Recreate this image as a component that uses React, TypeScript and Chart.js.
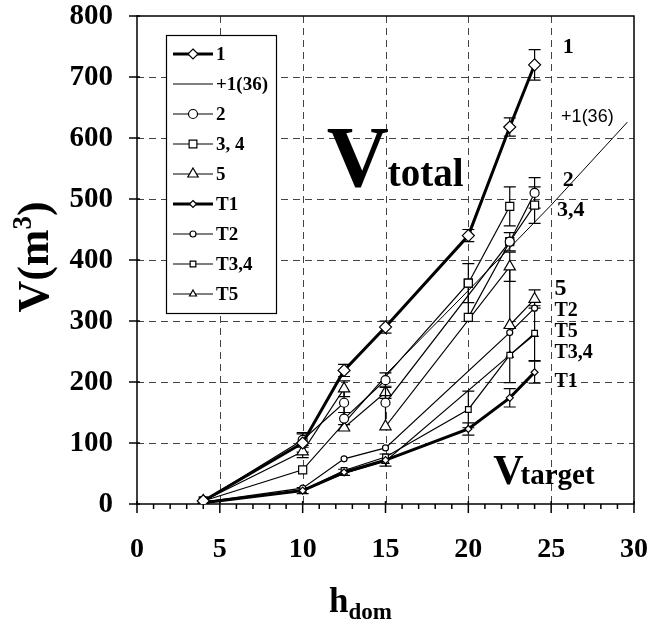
import React, { useEffect, useRef } from "react";
import { Chart, registerables } from "chart.js";

Chart.register(...registerables);

const SERIF = '"Liberation Serif", "Times New Roman", serif';
const SANS = '"Liberation Sans", Arial, sans-serif';

// ---- axes ----
const X_TICKS = [0, 5, 10, 15, 20, 25, 30];
const Y_TICKS = [0, 100, 200, 300, 400, 500, 600, 700, 800];

// ---- V total series ----
const s1X = [4, 10, 12.5, 15, 20, 22.5, 24];
const s1Y = [5, 100, 219, 290, 440, 618, 720];
const s1Err = [0, 15, 10, 10, 10, 15, 25];

const plusX = [15, 20, 25, 29.6];
const plusY = [212, 350, 490, 626];

const s2X = [4, 10, 12.5, 12.5, 15, 15, 22.5, 24];
const s2Y = [5, 105, 166, 140, 203, 166, 430, 510];
const s2Err = [0, 12, 0, 10, 12, 0, 0, 25];

const s34X = [4, 10, 20, 20, 22.5, 24];
const s34Y = [5, 56, 362, 306, 430, 490];
const s34Err = [0, 0, 32, 0, 15, 30];

const s3bX = [20, 22.5];
const s3bY = [362, 488];
const s3bErr = [0, 32];

const s5X = [4, 10, 12.5, 12.5, 15, 15, 22.5, 22.5, 24];
const s5Y = [5, 86, 189, 125, 183, 127, 389, 293, 336];
const s5Err = [0, 10, 13, 0, 10, 0, 24, 0, 15];

// ---- V target series ----
const t1X = [4, 10, 12.5, 15, 20, 22.5, 24];
const t1Y = [2, 22, 52, 72, 123, 174, 216];
const t1Err = [0, 5, 5, 10, 10, 15, 18];

const t2X = [4, 10, 12.5, 15, 22.5, 24];
const t2Y = [3, 26, 74, 92, 281, 321];
const t2Err = [0, 0, 0, 0, 0, 0];

const t34X = [4, 10, 12.5, 15, 20, 22.5, 24];
const t34Y = [3, 22, 55, 77, 155, 244, 280];
const t34Err = [0, 0, 0, 0, 30, 45, 45];

const t5X = [4, 10, 12.5, 15, 22.5, 24];
const t5Y = [3, 22, 50, 70, 244, 278];
const t5Err = [0, 0, 0, 0, 0, 0];

// ---- legend ----
const LEGEND_LABELS = ["1", "+1(36)", "2", "3, 4", "5", "T1", "T2", "T3,4", "T5"];
const LEGEND_STYLES = ["rectRot", "none", "circle", "rect", "triangle", "rectRot", "circle", "rect", "triangle"];
const LEGEND_WIDTHS = [3, 1, 1.2, 1.2, 1.2, 3, 1.2, 1.2, 1.2];
const LEGEND_RADII = [5, 0, 4.5, 5.5, 6, 3.5, 3, 4, 4];

// ---- series end labels ----
const END_LABELS = ["1", "2", "3,4", "5", "T2", "T5", "T3,4", "T1"];
const END_LABEL_X = [25.7, 25.7, 25.35, 25.2, 25.2, 25.2, 25.2, 25.2];
const END_LABEL_Y = [748, 530, 482, 352, 316, 282, 248, 200];
const END_LABEL_SIZE = [22, 22, 22, 24, 20, 20, 20, 20];

function pts(xs: number[], ys: number[]) {
  return xs.map((x, i) => ({ x, y: ys[i] }));
}

function ds(label: string, xs: number[], ys: number[], errs: number[] | null, style: any, r: number, w: number) {
  return {
    label,
    data: pts(xs, ys),
    errs,
    borderColor: "#000",
    backgroundColor: "#fff",
    borderWidth: w,
    pointStyle: style === "none" ? false : style,
    pointRadius: style === "none" ? 0 : r,
    pointBorderWidth: 1.2,
    pointBorderColor: "#000",
    pointBackgroundColor: "#fff",
    showLine: true,
    tension: 0,
    fill: false,
  } as any;
}

function drawMarker(ctx: CanvasRenderingContext2D, style: string, x: number, y: number, r: number) {
  if (style === "none") return;
  ctx.beginPath();
  if (style === "circle") {
    ctx.arc(x, y, r, 0, Math.PI * 2);
  } else if (style === "rectRot") {
    ctx.moveTo(x, y - r);
    ctx.lineTo(x + r, y);
    ctx.lineTo(x, y + r);
    ctx.lineTo(x - r, y);
    ctx.closePath();
  } else if (style === "rect") {
    const s = r * Math.SQRT1_2;
    ctx.rect(x - s, y - s, 2 * s, 2 * s);
  } else if (style === "triangle") {
    ctx.moveTo(x, y - r);
    ctx.lineTo(x + r * 0.866, y + r * 0.5);
    ctx.lineTo(x - r * 0.866, y + r * 0.5);
    ctx.closePath();
  }
  ctx.fillStyle = "#fff";
  ctx.fill();
  ctx.lineWidth = 1.2;
  ctx.strokeStyle = "#000";
  ctx.stroke();
}

const framePlugin = {
  id: "frame",
  beforeDatasetsDraw(chart: any) {
    const { ctx, chartArea: a, scales } = chart;
    const xs = scales.x;
    const ys = scales.y;
    ctx.save();
    // dashed grid
    ctx.strokeStyle = "#444";
    ctx.lineWidth = 1;
    ctx.setLineDash([7, 5]);
    X_TICKS.forEach((v) => {
      if (v === 0 || v === 30) return;
      const px = Math.round(xs.getPixelForValue(v)) + 0.5;
      ctx.beginPath();
      ctx.moveTo(px, a.top);
      ctx.lineTo(px, a.bottom);
      ctx.stroke();
    });
    Y_TICKS.forEach((v) => {
      if (v === 0 || v === 800) return;
      const py = Math.round(ys.getPixelForValue(v)) + 0.5;
      ctx.beginPath();
      ctx.moveTo(a.left, py);
      ctx.lineTo(a.right, py);
      ctx.stroke();
    });
    ctx.setLineDash([]);
    // ticks
    ctx.strokeStyle = "#000";
    ctx.lineWidth = 1.5;
    for (let v = 0; v <= 30; v++) {
      const px = xs.getPixelForValue(v);
      const major = v % 5 === 0;
      ctx.beginPath();
      ctx.moveTo(px, a.bottom - (major ? 3 : 0));
      ctx.lineTo(px, a.bottom + (major ? 9 : 5));
      ctx.stroke();
    }
    Y_TICKS.forEach((v) => {
      const py = ys.getPixelForValue(v);
      ctx.beginPath();
      ctx.moveTo(a.left - 8, py);
      ctx.lineTo(a.left + 3, py);
      ctx.stroke();
    });
    // frame
    ctx.lineWidth = 1.5;
    ctx.strokeRect(a.left, a.top, a.right - a.left, a.bottom - a.top);

    // error bars
    ctx.lineWidth = 1.2;
    chart.data.datasets.forEach((d: any) => {
      if (!d.errs) return;
      d.data.forEach((p: any, i: number) => {
        const e = d.errs[i];
        if (!e) return;
        const px = xs.getPixelForValue(p.x);
        const y1 = ys.getPixelForValue(p.y + e);
        const y2 = ys.getPixelForValue(p.y - e);
        ctx.beginPath();
        ctx.moveTo(px, y1);
        ctx.lineTo(px, y2);
        ctx.moveTo(px - 6, y1);
        ctx.lineTo(px + 6, y1);
        ctx.moveTo(px - 6, y2);
        ctx.lineTo(px + 6, y2);
        ctx.stroke();
      });
    });
    ctx.restore();
  },
  afterDraw(chart: any) {
    const { ctx, scales, chartArea: a } = chart;
    const xs = scales.x;
    const ys = scales.y;
    ctx.save();
    ctx.fillStyle = "#000";

    // tick labels
    ctx.font = `bold 28px ${SERIF}`;
    ctx.textBaseline = "middle";
    ctx.textAlign = "center";
    X_TICKS.forEach((v) => {
      ctx.fillText(String(v), xs.getPixelForValue(v), a.bottom + 46);
    });
    ctx.textAlign = "right";
    ctx.font = `bold 29px ${SERIF}`;
    Y_TICKS.forEach((v) => {
      ctx.fillText(String(v), a.left - 24, ys.getPixelForValue(v) + 1);
    });

    ctx.textBaseline = "alphabetic";
    // y title
    ctx.save();
    ctx.translate(48, 257);
    ctx.rotate(-Math.PI / 2);
    ctx.font = `bold 44px ${SERIF}`;
    const part1 = "V(m";
    const w1 = ctx.measureText(part1).width;
    ctx.font = `bold 27px ${SERIF}`;
    const w2 = ctx.measureText("3").width;
    ctx.font = `bold 44px ${SERIF}`;
    const w3 = ctx.measureText(")").width;
    const tot = w1 + w2 + w3;
    let cx = -tot / 2;
    ctx.textAlign = "left";
    ctx.fillText(part1, cx, 0);
    cx += w1;
    ctx.font = `bold 27px ${SERIF}`;
    ctx.fillText("3", cx, -17);
    cx += w2;
    ctx.font = `bold 44px ${SERIF}`;
    ctx.fillText(")", cx, 0);
    ctx.restore();

    // x title
    ctx.textAlign = "left";
    ctx.font = `bold 35px ${SERIF}`;
    ctx.fillText("h", 329, 612);
    const hw = ctx.measureText("h").width;
    ctx.font = `bold 23px ${SERIF}`;
    ctx.fillText("dom", 329 + hw, 619);

    // V total
    const vx = xs.getPixelForValue(11.45);
    const vy = ys.getPixelForValue(522);
    ctx.font = `bold 86px ${SERIF}`;
    ctx.fillText("V", vx, vy);
    const vw = ctx.measureText("V").width;
    ctx.font = `bold 39px ${SERIF}`;
    ctx.fillText("total", vx + vw - 1, vy);

    // V target
    const tx = xs.getPixelForValue(21.5);
    const ty = ys.getPixelForValue(33);
    ctx.font = `bold 42px ${SERIF}`;
    ctx.fillText("V", tx, ty);
    const tw = ctx.measureText("V").width;
    ctx.font = `bold 29px ${SERIF}`;
    ctx.fillText("target", tx + tw - 3, ty);

    // end labels
    ctx.textBaseline = "middle";
    END_LABELS.forEach((t, i) => {
      ctx.font = `bold ${END_LABEL_SIZE[i]}px ${SERIF}`;
      ctx.fillText(t, xs.getPixelForValue(END_LABEL_X[i]), ys.getPixelForValue(END_LABEL_Y[i]));
    });
    ctx.font = `18px ${SANS}`;
    ctx.fillText("+1(36)", xs.getPixelForValue(25.6), ys.getPixelForValue(635));

    // legend
    const lx = 166, ly = 35, lw = 110, lh = 278;
    ctx.fillStyle = "#fff";
    ctx.fillRect(lx, ly, lw, lh);
    ctx.strokeStyle = "#000";
    ctx.lineWidth = 1.2;
    ctx.strokeRect(lx + 0.5, ly + 0.5, lw, lh);
    LEGEND_LABELS.forEach((lab, i) => {
      const y = 54 + i * 30;
      ctx.strokeStyle = "#000";
      ctx.lineWidth = LEGEND_WIDTHS[i];
      ctx.beginPath();
      ctx.moveTo(173, y);
      ctx.lineTo(213, y);
      ctx.stroke();
      drawMarker(ctx, LEGEND_STYLES[i], 193, y, LEGEND_RADII[i]);
      ctx.fillStyle = "#000";
      ctx.font = `bold 19px ${SERIF}`;
      ctx.textAlign = "left";
      ctx.textBaseline = "middle";
      ctx.fillText(lab, 216, y + 1);
    });
    ctx.restore();
  },
};

export default function App() {
  const ref = useRef<HTMLCanvasElement | null>(null);
  useEffect(() => {
    document.body.style.margin = "0";
    const canvas = ref.current;
    if (!canvas) return;
    const chart = new Chart(canvas, {
      type: "scatter",
      data: {
        datasets: [
          ds("1", s1X, s1Y, s1Err, "rectRot", 6, 3),
          ds("+1(36)", plusX, plusY, null, "none", 0, 1),
          ds("2", s2X, s2Y, s2Err, "circle", 4.5, 1.2),
          ds("3, 4", s34X, s34Y, s34Err, "rect", 5.7, 1.2),
          ds("3, 4 b", s3bX, s3bY, s3bErr, "rect", 5.7, 1.2),
          ds("5", s5X, s5Y, s5Err, "triangle", 6.5, 1.2),
          ds("T1", t1X, t1Y, t1Err, "rectRot", 3.5, 3),
          ds("T2", t2X, t2Y, t2Err, "circle", 3, 1.2),
          ds("T3,4", t34X, t34Y, t34Err, "rect", 4, 1.2),
          ds("T5", t5X, t5Y, t5Err, "triangle", 4, 1.2),
        ],
      },
      options: {
        animation: false,
        responsive: false,
        maintainAspectRatio: false,
        layout: { autoPadding: false, padding: { left: 0, right: 14, top: 16, bottom: 0 } },
        plugins: {
          legend: { display: false },
          tooltip: { enabled: false },
          title: { display: false },
        },
        scales: {
          x: {
            type: "linear",
            min: 0,
            max: 30,
            afterBuildTicks: (s: any) => {
              s.ticks = X_TICKS.map((v) => ({ value: v }));
            },
            afterFit: (s: any) => {
              s.height = 118;
            },
            grid: { display: false, drawTicks: false },
            border: { display: false },
            ticks: { display: false, padding: 0 },
          },
          y: {
            type: "linear",
            min: 0,
            max: 800,
            afterBuildTicks: (s: any) => {
              s.ticks = Y_TICKS.map((v) => ({ value: v }));
            },
            afterFit: (s: any) => {
              s.width = 137;
            },
            grid: { display: false, drawTicks: false },
            border: { display: false },
            ticks: { display: false, padding: 0 },
          },
        },
      },
      plugins: [framePlugin],
    } as any);
    return () => chart.destroy();
  }, []);
  return (
    <div style={{ position: "absolute", left: 0, top: 0, width: 648, height: 622, background: "#fff" }}>
      <canvas ref={ref} width={648} height={622} style={{ width: 648, height: 622, display: "block" }} />
    </div>
  );
}
